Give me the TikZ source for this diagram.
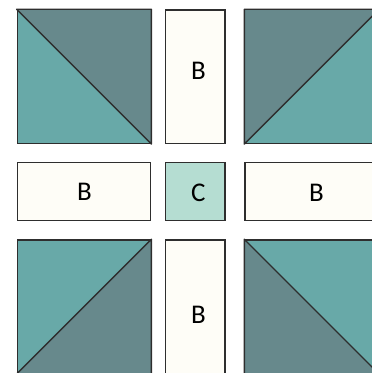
\documentclass[tikz,border=0pt]{standalone}
\usepackage{fontspec}
\setmainfont{Carlito}
\usetikzlibrary{positioning}
\definecolor{tealdark}{HTML}{67898C}
\definecolor{teallight}{HTML}{68A9A8}
\definecolor{cream}{HTML}{FEFDF7}
\definecolor{mint}{HTML}{B5DDD2}
\definecolor{edge}{HTML}{2E2E2E}

\begin{document}
\begin{tikzpicture}[x=1pt, y=1pt,
  every node/.style={font=\fontsize{27}{31}\selectfont},
  sq/.style={rectangle, draw=edge, line width=1.4pt, fill=teallight, minimum size=133.4pt, inner sep=0pt},
  half/.style={fill=tealdark, draw=edge, line width=1.4pt, line join=round},
  strip/.style={rectangle, draw=edge, line width=1.4pt, fill=cream, inner sep=0pt},
  lbl/.style={inner sep=0pt}]
\clip (0,0) rectangle (372,373);
% corner blocks
\node[sq] (tl) at (84,296.35) {};
\node[sq] (tr) at (311.7,296.35) {};
\node[sq] (bl) at (84,66.3) {};
\node[sq] (br) at (311.7,66.3) {};
\filldraw[half] (tl.north west) -- (tl.north east) -- (tl.south east) -- cycle;
\filldraw[half] (tr.south west) -- (tr.north west) -- (tr.north east) -- cycle;
\filldraw[half] (bl.south west) -- (bl.north east) -- (bl.south east) -- cycle;
\filldraw[half] (br.north west) -- (br.south east) -- (br.south west) -- cycle;
% sashing strips
\node[strip, minimum width=59.3pt, minimum height=133.3pt] (stop) at (195.15,296.35) {};
\node[strip, minimum width=59.3pt, minimum height=133.4pt] (sbot) at (195.15,66.3) {};
\node[strip, minimum width=133.4pt, minimum height=58.4pt] (sleft) at (84,181.5) {};
\node[strip, minimum width=133.4pt, minimum height=58.4pt] (sright) at (311.7,181.5) {};
\node[strip, fill=mint, minimum width=59.3pt, minimum height=58.4pt] (cen) at (195.15,181.5) {};
% letters
\node[lbl] (btop) at (198.5,302) {B};
\node[lbl] (bbot) at (198.5,58.5) {B};
\node[lbl] (bleft) at (84.5,181) {B};
\node[lbl] (bright) at (316.5,180) {B};
\node[lbl] (ccen) at (198.3,180) {C};
\end{tikzpicture}
\end{document}
